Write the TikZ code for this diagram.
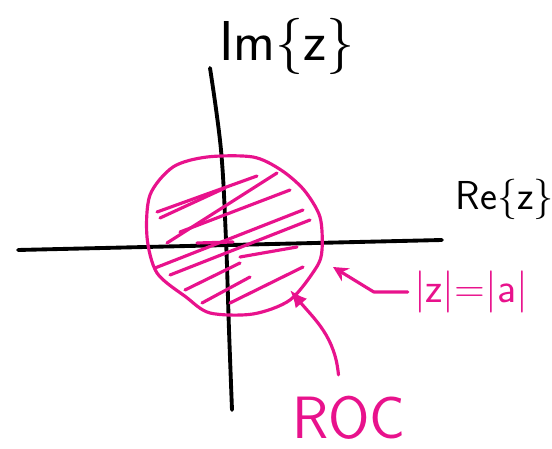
\documentclass[tikz,border=0pt]{standalone}
\usepackage{amsmath,amssymb}
\usepackage{tikz}
\usetikzlibrary{arrows.meta}
\definecolor{rocpink}{RGB}{232,18,140}

\begin{document}
\begin{tikzpicture}[x=0.02cm, y=-0.02cm, every node/.style={font=\sffamily}, >={Latex[length=3.5mm,width=3mm]},
	axis/.style={line width=2.2pt, line cap=round},
	rocline/.style={rocpink, line width=1.8pt, line cap=round, line join=round}]
	\useasboundingbox (0,0) rectangle (552,449);
	% axes
	\coordinate (xl) at (18,250);
	\coordinate (xr) at (442,240);
	\draw[axis] (xl) -- (xr);
	\draw[axis] plot[smooth, tension=0.6] coordinates {(210,68) (221,150) (226,240) (229,330) (232,410)};
	\node[font=\sffamily\fontsize{32}{36}\selectfont, anchor=center] (imlabel) at (287,46) {Im\{z\}};
	\node[font=\sffamily\fontsize{23}{26}\selectfont, anchor=center] (relabel) at (505,199) {Re\{z\}};
	% region of convergence
	\draw[rocline] plot[smooth cycle, tension=0.5] coordinates {(147,237) (150,195) (173,167) (207,157) (253,157) (281,170) (304,190) (320,217) (322,250) (316,268) (290,300) (253,314) (210,313) (186,297) (157,273)};
	\foreach \a/\b in {{(157,212)}/{(257,176)}, {(160,218)}/{(225,188)}, {(167,243)}/{(277,173)}, {(180,232)}/{(290,190)},
		{(155,268)}/{(303,210)}, {(170,275)}/{(310,220)}, {(197,243)}/{(233,242)}, {(240,257)}/{(297,247)},
		{(185,290)}/{(240,263)}, {(202,303)}/{(250,277)}, {(230,303)}/{(303,267)}}
		\draw[rocline] \a -- \b;
	\coordinate (rimA) at (333,267);
	\coordinate (rimB) at (290,290);
	\node[rocpink, font=\sffamily\fontsize{24}{28}\selectfont] (radius) at (471,292) {|z|=|a|};
	\draw[rocline, ->, >={Stealth[length=3mm,width=3mm]}] (radius.west) -- ++(-34,0) -- (rimA);
	\node[rocpink, inner sep=0pt, font=\sffamily\fontsize{34}{38}\selectfont] (roc) at (349,418) {ROC};
	\draw[rocline, ->] ([xshift=-6pt,yshift=12pt]roc.north) to[out=95, in=-50] (rimB);
\end{tikzpicture}
\end{document}
